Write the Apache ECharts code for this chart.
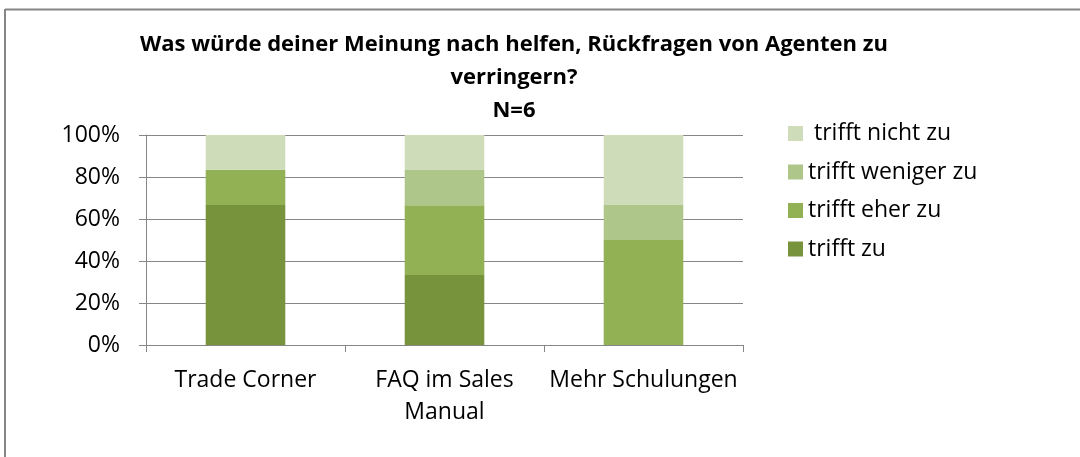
<!DOCTYPE html>
<html>
<head>
<meta charset="utf-8">
<script src="https://cdn.jsdelivr.net/npm/echarts@6/dist/echarts.min.js"></script>
<style>
  html, body { margin: 0; padding: 0; background: #fff; }
  #chart { width: 1080px; height: 457px; }
</style>
</head>
<body>
<div id="chart"></div>
<script>
  const categories = ['Trade Corner', 'FAQ im Sales\nManual', 'Mehr Schulungen'];
  const trifftZu = [66.7, 33.3, 0];
  const trifftEherZu = [16.7, 33.3, 50];
  const trifftWenigerZu = [0, 16.7, 16.7];
  const trifftNichtZu = [16.6, 16.7, 33.3];
  const yTicks = [0, 20, 40, 60, 80, 100];

  const font = '"Open Sans", "Noto Sans", sans-serif';
  const grey = '#868686';

  const chart = echarts.init(document.getElementById('chart'));

  function bar(name, data, color) {
    return {
      name: name,
      type: 'bar',
      stack: 'total',
      barWidth: '40%',
      itemStyle: { color: color },
      data: data
    };
  }

  const option = {
    animation: false,
    backgroundColor: '#fff',
    title: {
      text: 'Was würde deiner Meinung nach helfen, Rückfragen von Agenten zu\nverringern?\nN=6',
      left: 514, top: 28, textAlign: 'center', padding: 0,
      textStyle: { fontFamily: font, fontWeight: 'bold', fontSize: 22, lineHeight: 33, color: '#000' }
    },
    graphic: [
      {
        type: 'line',
        shape: { x1: 5, y1: 9.5, x2: 1080, y2: 9.5 },
        style: { stroke: grey, lineWidth: 2 },
        silent: true
      },
      {
        type: 'line',
        shape: { x1: 5, y1: 9, x2: 5, y2: 457 },
        style: { stroke: grey, lineWidth: 2 },
        silent: true
      }
    ],
    legend: {
      orient: 'vertical',
      left: 788,
      top: 122,
      padding: 0,
      itemWidth: 15,
      itemHeight: 15,
      itemGap: 15.5,
      icon: 'rect',
      textStyle: { fontFamily: font, fontSize: 23, lineHeight: 23, color: '#000' },
      data: [' trifft nicht zu', 'trifft weniger zu', 'trifft eher zu', 'trifft zu']
    },
    grid: { left: 146, right: 337, top: 135, bottom: 112 },
    xAxis: {
      type: 'category',
      data: categories,
      axisLine: { lineStyle: { color: grey } },
      axisTick: { show: true, length: 7, lineStyle: { color: grey } },
      axisLabel: { fontFamily: font, fontSize: 23, color: '#000', margin: 19, lineHeight: 32, interval: 0 }
    },
    yAxis: {
      type: 'value',
      min: yTicks[0],
      max: yTicks[yTicks.length - 1],
      interval: 20,
      axisLine: { show: true, lineStyle: { color: grey } },
      axisTick: { show: true, length: 7, lineStyle: { color: grey } },
      splitLine: { lineStyle: { color: grey } },
      axisLabel: { fontFamily: font, fontSize: 23, color: '#000', margin: 26, formatter: '{value}%' }
    },
    series: [
      bar('trifft zu', trifftZu, '#77933C'),
      bar('trifft eher zu', trifftEherZu, '#92B054'),
      bar('trifft weniger zu', trifftWenigerZu, '#AEC68A'),
      bar(' trifft nicht zu', trifftNichtZu, '#CFDCB9')
    ]
  };

  chart.setOption(option);
</script>
</body>
</html>
